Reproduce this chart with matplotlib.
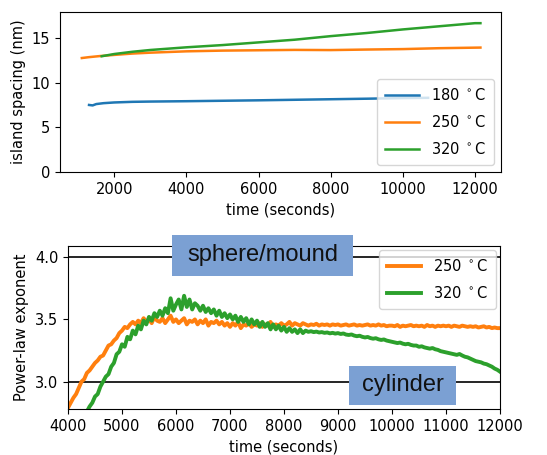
import numpy as np
import matplotlib
matplotlib.use('Agg')
import matplotlib.pyplot as plt
from matplotlib.patches import Rectangle

# --- island spacing vs time (top panel) ---
t_180 = [1300, 1400, 1500, 1700, 2000, 2500, 3000, 4000, 5000, 6000, 7000, 8000, 9000, 10000, 10700]
s_180 = [7.5, 7.45, 7.6, 7.7, 7.78, 7.85, 7.88, 7.92, 7.97, 8.02, 8.08, 8.14, 8.2, 8.27, 8.3]

t_250 = [1100, 1300, 1600, 2000, 2500, 3000, 4000, 5000, 6000, 7000, 8000, 9000, 10000, 11000, 12150]
s_250 = [12.75, 12.85, 12.97, 13.1, 13.25, 13.35, 13.5, 13.58, 13.62, 13.66, 13.64, 13.7, 13.75, 13.85, 13.92]

t_320 = [1650, 2000, 2500, 3000, 4000, 5000, 6000, 7000, 8000, 9000, 10000, 11000, 12000, 12150]
s_320 = [12.95, 13.2, 13.45, 13.65, 13.95, 14.2, 14.5, 14.8, 15.2, 15.55, 15.95, 16.3, 16.65, 16.65]

# --- power-law exponent vs time (bottom panel), 50 s sampling ---
t_exp250 = np.arange(4000, 12001, 50)
n_250 = [2.79, 2.83, 2.87, 2.90, 2.95, 3.00, 3.02, 3.07, 3.09, 3.12,
         3.15, 3.17, 3.20, 3.21, 3.25, 3.29, 3.30, 3.33, 3.35, 3.39,
         3.41, 3.44, 3.43, 3.46, 3.48, 3.46, 3.49, 3.47, 3.51, 3.48,
         3.50, 3.47, 3.52, 3.49, 3.48, 3.51, 3.47, 3.50, 3.53, 3.48,
         3.50, 3.47, 3.49, 3.51, 3.46, 3.49, 3.48, 3.50, 3.46, 3.49,
         3.47, 3.50, 3.45, 3.48, 3.47, 3.49, 3.46, 3.48, 3.45, 3.47,
         3.44, 3.47, 3.45, 3.48, 3.43, 3.46, 3.45, 3.47, 3.44, 3.46,
         3.45, 3.47, 3.44, 3.46, 3.45, 3.48, 3.44, 3.46, 3.45, 3.47,
         3.45, 3.46, 3.48, 3.45, 3.47, 3.46, 3.45, 3.47, 3.46, 3.45,
         3.46, 3.455, 3.465, 3.45, 3.46, 3.455, 3.46, 3.45, 3.46, 3.455,
         3.46, 3.45, 3.455, 3.46, 3.45, 3.455, 3.46, 3.45, 3.455, 3.45,
         3.455, 3.46, 3.45, 3.455, 3.45, 3.46, 3.45, 3.455, 3.445, 3.45,
         3.45, 3.445, 3.455, 3.44, 3.45, 3.445, 3.45, 3.455, 3.445, 3.45,
         3.445, 3.45, 3.44, 3.455, 3.445, 3.45, 3.44, 3.45, 3.445, 3.45,
         3.445, 3.45, 3.44, 3.45, 3.445, 3.44, 3.45, 3.445, 3.44, 3.445,
         3.44, 3.445, 3.435, 3.44, 3.445, 3.435, 3.44, 3.43, 3.435, 3.43,
         3.43]

t_exp320 = np.arange(4350, 12001, 50)
n_320 = [2.76, 2.80, 2.83,
         2.88, 2.90, 2.96, 3.00, 3.04, 3.06, 3.12, 3.15, 3.22, 3.24,
         3.30, 3.28, 3.36, 3.34, 3.41, 3.38, 3.45, 3.42, 3.49, 3.46,
         3.52, 3.49, 3.55, 3.52, 3.57, 3.53, 3.59, 3.55, 3.67, 3.57,
         3.62, 3.66, 3.58, 3.69, 3.60, 3.66, 3.58, 3.63, 3.61, 3.57,
         3.61, 3.56, 3.59, 3.55, 3.58, 3.53, 3.57, 3.52, 3.55, 3.51,
         3.54, 3.50, 3.53, 3.48, 3.52, 3.48, 3.51, 3.46, 3.50, 3.46,
         3.49, 3.44, 3.48, 3.44, 3.47, 3.42, 3.46, 3.42, 3.45, 3.41,
         3.44, 3.40, 3.43, 3.40, 3.42, 3.39, 3.42, 3.39, 3.41, 3.40,
         3.405, 3.398, 3.402, 3.395, 3.398, 3.392, 3.395, 3.388, 3.392, 3.386,
         3.39, 3.383, 3.387, 3.378, 3.375, 3.379, 3.37, 3.365, 3.369, 3.36,
         3.355, 3.359, 3.35, 3.345, 3.349, 3.34, 3.335, 3.339, 3.33, 3.325,
         3.32, 3.315, 3.31, 3.314, 3.305, 3.30, 3.304, 3.295, 3.29, 3.29,
         3.28, 3.284, 3.275, 3.27, 3.265, 3.27, 3.26, 3.255, 3.245, 3.24,
         3.235, 3.23, 3.225, 3.22, 3.215, 3.222, 3.21, 3.20, 3.195, 3.185,
         3.175, 3.165, 3.16, 3.155, 3.145, 3.14, 3.13, 3.12, 3.105, 3.095,
         3.08]

levels = {'sphere/mound': 4.0, 'cylinder': 3.0}

fs = 10.5
plt.rcParams['font.size'] = fs

W, H = 547, 455
fig = plt.figure(figsize=(W/100, H/100), dpi=100)

def px_axes(x0, y0, x1, y1):
    # axes from pixel box (left, top, right, bottom)
    return fig.add_axes([x0/W, 1 - y1/H, (x1 - x0)/W, (y1 - y0)/H])

ax1 = px_axes(60, 12, 501, 172)
ax1.plot(t_180, s_180, lw=1.8, c='tab:blue', label=r'180 $^\circ$C')
ax1.plot(t_250, s_250, lw=1.8, c='tab:orange', label=r'250 $^\circ$C')
ax1.plot(t_320, s_320, lw=1.8, c='tab:green', label=r'320 $^\circ$C')
ax1.set_xlim(495, 12720)
ax1.set_ylim(0, 17.9)
ax1.set_yticks([0, 5, 10, 15])
ax1.set_xticks(np.arange(2000, 12001, 2000))
ax1.set_xlabel('time (seconds)')
ax1.set_ylabel('island spacing (nm)')
ax1.legend(loc='lower right', handlelength=2.3, labelspacing=0.75,
           borderpad=0.55, fontsize=fs)

ax2 = px_axes(68, 246, 500, 409)
for y in levels.values():
    ax2.axhline(y, c='k', lw=1.2, zorder=1)
ax2.plot(t_exp250, n_250, lw=2.8, c='tab:orange', label=r'250 $^\circ$C')
ax2.plot(t_exp320, n_320, lw=2.8, c='tab:green', label=r'320 $^\circ$C')
ax2.set_xlim(4000, 12000)
ax2.set_ylim(2.78, 4.09)
ax2.set_yticks([3.0, 3.5, 4.0])
ax2.set_xticks(np.arange(4000, 12001, 1000))
ax2.set_xlabel('time (seconds)')
ax2.set_ylabel('Power-law exponent')
ax2.legend(loc='upper right', handlelength=2.3, labelspacing=0.75,
           borderpad=0.55, borderaxespad=0.3, fontsize=fs)

# labelled boxes for the two regimes
boxes = {'sphere/mound': (172, 235, 353, 276), 'cylinder': (349, 366, 456, 405)}
for name, (x0, y0, x1, y1) in boxes.items():
    fig.add_artist(Rectangle((x0/W, 1 - y1/H), (x1 - x0)/W, (y1 - y0)/H,
                             transform=fig.transFigure, fc='#7BA0D3', ec='none', zorder=5))
    fig.text((x0 + x1)/2/W, 1 - (y0 + y1)/2/H, name, ha='center', va='center',
             fontsize=17, family='Liberation Sans', color='#111111', zorder=6)

plt.savefig('out.png', dpi=100)
